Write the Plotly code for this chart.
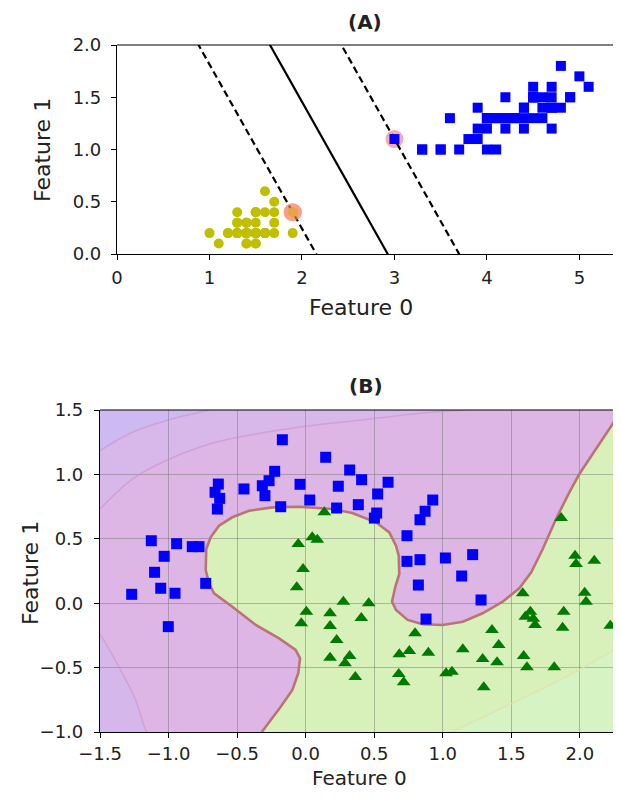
import plotly.graph_objects as go

# ---------------- Panel A data (iris petal length / width) ----------------
setosa_len = [1.4,1.4,1.3,1.5,1.4,1.7,1.4,1.5,1.4,1.5,1.5,1.6,1.4,1.1,1.2,1.5,1.3,1.4,1.7,1.5,
              1.7,1.5,1.0,1.7,1.9,1.6,1.6,1.5,1.4,1.6,1.6,1.5,1.5,1.4,1.5,1.2,1.3,1.4,1.3,1.5,
              1.3,1.3,1.3,1.6,1.9,1.4,1.6,1.4,1.5,1.4]
setosa_wid = [0.2,0.2,0.2,0.2,0.2,0.4,0.3,0.2,0.2,0.1,0.2,0.2,0.1,0.1,0.2,0.4,0.4,0.3,0.3,0.3,
              0.2,0.4,0.2,0.5,0.2,0.2,0.4,0.2,0.2,0.2,0.2,0.4,0.1,0.2,0.2,0.2,0.2,0.1,0.2,0.2,
              0.3,0.3,0.2,0.6,0.4,0.3,0.2,0.2,0.2,0.2]
versi_len = [4.7,4.5,4.9,4.0,4.6,4.5,4.7,3.3,4.6,3.9,3.5,4.2,4.0,4.7,3.6,4.4,4.5,4.1,4.5,3.9,
             4.8,4.0,4.9,4.7,4.3,4.4,4.8,5.0,4.5,3.5,3.8,3.7,3.9,5.1,4.5,4.5,4.7,4.4,4.1,4.0,
             4.4,4.6,4.0,3.3,4.2,4.2,4.2,4.3,3.0,4.1]
versi_wid = [1.4,1.5,1.5,1.3,1.5,1.3,1.6,1.0,1.3,1.4,1.0,1.5,1.0,1.4,1.3,1.4,1.5,1.0,1.5,1.1,
             1.8,1.3,1.5,1.2,1.3,1.4,1.4,1.7,1.5,1.0,1.1,1.0,1.2,1.6,1.5,1.6,1.5,1.3,1.3,1.3,
             1.2,1.4,1.2,1.0,1.3,1.2,1.3,1.3,1.1,1.3]
sv_x = [1.9, 3.0]
sv_y = [0.4, 1.1]
svm_w = [1.2941, 0.8235]
svm_b = -3.7882
a_xticks = [0, 1, 2, 3, 4, 5]
a_yticks = [0.0, 0.5, 1.0, 1.5, 2.0]
a_xrange = [0, 5.45]
a_yrange = [0, 2]

# ---------------- Panel B data (moons) ----------------
blue_x = [-0.170, 0.146, 0.321, 0.408, -0.226, -0.267, -0.316, -0.297, -0.450, -0.637, -0.661,
          -0.627, -0.644, -0.041, 0.030, -0.182, 0.238, 0.226, 0.384, -1.126, -0.941, -0.827,
          -0.778, -1.032, -1.102, 0.601, 0.525, 0.518, 0.501, 0.927, 0.871, 0.834, 0.739,
          0.739, 0.834, 1.019, 1.218, -1.057, -0.953, -1.269, -0.729, -1.002, 1.138, 0.822,
          1.279, 0.878]
blue_y = [1.269, 1.133, 1.034, 0.959, 1.024, 0.951, 0.912, 0.835, 0.887, 0.925, 0.861,
          0.814, 0.731, 0.923, 0.801, 0.749, 0.908, 0.739, 0.765, 0.485, 0.462, 0.439,
          0.439, 0.364, 0.240, 0.939, 0.848, 0.700, 0.661, 0.801, 0.714, 0.648, 0.524,
          0.325, 0.338, 0.351, 0.377, 0.116, 0.077, 0.069, 0.154, -0.182, 0.211, 0.141,
          0.025, -0.123]
green_x = [0.136, -0.054, 0.048, 0.085, -0.019, 1.863, 1.965, 1.972, 2.105, -0.065, 0.275,
           0.005, 0.178, 0.406, -0.032, 0.178, 0.226, 0.178, 0.321, 0.287, 0.362, 0.460,
           1.583, 1.639, 1.602, 1.673, 1.660, 1.882, 1.874, 2.035, 2.045, 2.222, 1.359,
           0.798, 1.408, 1.146, 0.683, 0.756, 0.895, 1.291, 1.396, 1.590, 1.614, 1.813,
           0.679, 0.715, 1.024, 1.067, 1.299]
green_y = [0.706, 0.460, 0.512, 0.493, 0.266, 0.661, 0.369, 0.304, 0.330, 0.123, 0.012,
           -0.066, -0.078, -0.115, -0.156, -0.177, -0.286, -0.423, -0.410, -0.467, -0.573, -0.001,
           0.077, -0.066, -0.105, -0.169, -0.120, -0.066, -0.190, 0.082, 0.012, -0.175, -0.208,
           -0.234, -0.325, -0.358, -0.397, -0.371, -0.384, -0.433, -0.459, -0.410, -0.498, -0.498,
           -0.550, -0.614, -0.544, -0.532, -0.653]
# decision boundary
bnd_x = [-0.32, -0.291, -0.182, -0.097, -0.054, -0.041, -0.073, -0.194, -0.364, -0.535, -0.668,
         -0.705, -0.729, -0.725, -0.693, -0.632, -0.535, -0.413, -0.243, -0.049, 0.194, 0.340,
         0.513, 0.610, 0.659, 0.679, 0.683, 0.654, 0.630, 0.659, 0.744, 0.854, 0.999, 1.146,
         1.291, 1.437, 1.558, 1.645, 1.729, 1.826, 1.923, 1.996, 2.118, 2.215, 2.30]
bnd_y = [-1.0, -0.959, -0.804, -0.674, -0.544, -0.428, -0.363, -0.273, -0.169, -0.027, 0.077,
         0.154, 0.258, 0.421, 0.512, 0.602, 0.667, 0.718, 0.744, 0.749, 0.731, 0.700,
         0.628, 0.550, 0.446, 0.369, 0.227, 0.128, 0.012, -0.053, -0.130, -0.164, -0.169, -0.144,
         -0.078, 0.012, 0.116, 0.240, 0.421, 0.654, 0.861, 1.003, 1.197, 1.352, 1.49]
# faint decision-function contours
arc1_x = [-1.5, -1.264, -1.021, -0.705]
arc1_y = [1.184, 1.327, 1.417, 1.5]
arc2_x = [-1.5, -1.264, -1.021, -0.656, -0.291, 0.073, 0.426, 0.854, 1.17]
arc2_y = [0.731, 0.964, 1.106, 1.249, 1.327, 1.384, 1.425, 1.477, 1.5]
arc3_x = [-1.5, -1.458, -1.337, -1.240, -1.167, -1.155]
arc3_y = [-0.24, -0.311, -0.544, -0.752, -0.984, -1.0]
arc4_x = [2.40, 1.948, 1.583, 1.097, 1.07]
arc4_y = [-0.27, -0.544, -0.738, -0.984, -1.0]
b_xticks = [-1.5, -1.0, -0.5, 0.0, 0.5, 1.0, 1.5, 2.0]
b_yticks = [-1.0, -0.5, 0.0, 0.5, 1.0, 1.5]
b_xrange = [-1.5, 2.30]
b_yrange = [-1.0, 1.5]

FONT = "DejaVu Sans"
# the page body adds an 8px margin at the top-left
OFF, W, H = 8, 613, 782
def sx(px):
    return (px - OFF) / W
def sy(py):
    return 1 - (py - OFF) / H

fig = go.Figure()

# ---------------- Panel A ----------------
ax0, ax1 = a_xrange
def margin_line(off):
    xs = [ax0 - 1, ax1 + 1]
    ys = [-(svm_w[0] * x + svm_b + off) / svm_w[1] for x in xs]
    return xs, ys

fig.add_trace(go.Scatter(x=sv_x, y=sv_y, mode="markers", xaxis="x", yaxis="y",
                         marker=dict(size=18, color="#FFAAAA"), showlegend=False))
for off in [0, 1, -1]:
    xs, ys = margin_line(off)
    fig.add_trace(go.Scatter(x=xs, y=ys, mode="lines", xaxis="x", yaxis="y",
                             line=dict(color="black", width=2.2, dash="solid" if off == 0 else "7px,4px"),
                             showlegend=False))
fig.add_trace(go.Scatter(x=setosa_len, y=setosa_wid, mode="markers", xaxis="x", yaxis="y",
                         marker=dict(symbol="circle", size=10, color="#BFBF00"), showlegend=False))
fig.add_trace(go.Scatter(x=versi_len, y=versi_wid, mode="markers", xaxis="x", yaxis="y",
                         marker=dict(symbol="square", size=10, color="#0000FF"), showlegend=False))
fig.add_trace(go.Scatter(x=sv_x[:1], y=sv_y[:1], mode="markers", xaxis="x", yaxis="y",
                         marker=dict(size=18, color="rgba(250,150,110,0.6)"), showlegend=False))

# ---------------- Panel B background (below gridlines) ----------------
def path_of(xs, ys):
    return "M " + " L ".join(f"{x},{y}" for x, y in zip(xs, ys)) + " Z"

bx0, bx1 = b_xrange
by0, by1 = b_yrange
XR = 2.6  # polygons run past the (cropped) right edge
shapes = []
shapes.append(dict(type="rect", xref="x2", yref="y2", x0=bx0, x1=bx1, y0=by0, y1=by1,
                   fillcolor="#DDB6E6", line=dict(width=0), layer="below"))
shapes.append(dict(type="path", xref="x2", yref="y2",
                   path=path_of(arc2_x + [bx0], arc2_y + [by1]),
                   fillcolor="#D8B7EA", line=dict(width=0), layer="below"))
shapes.append(dict(type="path", xref="x2", yref="y2",
                   path=path_of(arc1_x + [bx0], arc1_y + [by1]),
                   fillcolor="#CDBAF2", line=dict(width=0), layer="below"))
shapes.append(dict(type="path", xref="x2", yref="y2",
                   path=path_of(arc3_x + [bx0], arc3_y + [by0]),
                   fillcolor="#D5B7EC", line=dict(width=0), layer="below"))
shapes.append(dict(type="path", xref="x2", yref="y2",
                   path=path_of(bnd_x + [XR, XR], bnd_y + [by1, by0]),
                   fillcolor="#D8F0B9", line=dict(width=0), layer="below"))
shapes.append(dict(type="path", xref="x2", yref="y2",
                   path=path_of(arc4_x + [XR], arc4_y + [by0]),
                   fillcolor="#D5F3C3", line=dict(width=0), layer="below"))
shapes.append(dict(type="line", xref="x domain", yref="y domain", x0=0, x1=1, y0=1, y1=1,
                   line=dict(color="black", width=1.2)))
shapes.append(dict(type="line", xref="x2 domain", yref="y2 domain", x0=0, x1=1, y0=1, y1=1,
                   line=dict(color="black", width=1.2)))

for ax_, ay_ in [(arc1_x, arc1_y), (arc2_x, arc2_y), (arc3_x, arc3_y)]:
    fig.add_trace(go.Scatter(x=ax_, y=ay_, mode="lines", xaxis="x2", yaxis="y2",
                             line=dict(color="rgba(200,140,200,0.5)", width=1.5, shape="spline"),
                             showlegend=False, hoverinfo="skip"))
fig.add_trace(go.Scatter(x=arc4_x, y=arc4_y, mode="lines", xaxis="x2", yaxis="y2",
                         line=dict(color="rgba(225,225,175,0.8)", width=1.5, shape="spline"),
                         showlegend=False, hoverinfo="skip"))
fig.add_trace(go.Scatter(x=bnd_x, y=bnd_y, mode="lines", xaxis="x2", yaxis="y2",
                         line=dict(color="#B97575", width=2.6), showlegend=False))
fig.add_trace(go.Scatter(x=blue_x, y=blue_y, mode="markers", xaxis="x2", yaxis="y2",
                         marker=dict(symbol="square", size=11, color="#0000FF"), showlegend=False))
fig.add_trace(go.Scatter(x=green_x, y=green_y, mode="markers", xaxis="x2", yaxis="y2",
                         marker=dict(symbol="triangle-up", size=12, color="#007A00"), showlegend=False))

tickfont = dict(family=FONT, size=18, color="#222222")
common = dict(showline=True, linecolor="black", linewidth=1.2, ticks="outside", ticklen=5,
              tickcolor="black", tickwidth=1.2, tickfont=tickfont, zeroline=False, mirror=False,
              automargin=False)

def label(text, px, py, size, angle=0):
    return dict(text=text, x=sx(px), y=sy(py), xref="paper", yref="paper", showarrow=False,
                xanchor="center", yanchor="middle", textangle=angle,
                font=dict(family=FONT, size=size, color="#222222"))

fig.update_layout(
    width=W, height=H, margin=dict(l=0, r=0, t=0, b=0, pad=0, autoexpand=False),
    paper_bgcolor="white", plot_bgcolor="rgba(0,0,0,0)", showlegend=False,
    xaxis=dict(domain=[sx(117), 1], range=a_xrange, tickvals=a_xticks, ticktext=[str(t) for t in a_xticks],
               showgrid=False, anchor="y", ticklabelstandoff=2, **common),
    yaxis=dict(domain=[sy(254), sy(45)], range=a_yrange, tickvals=a_yticks, tickformat=".1f",
               showgrid=False, anchor="x", ticklabelstandoff=6, **common),
    xaxis2=dict(domain=[sx(100), 1], range=b_xrange, tickvals=b_xticks, tickformat=".1f",
                showgrid=True, gridcolor="rgba(110,110,110,0.45)", gridwidth=1, anchor="y2",
                ticklabelstandoff=0, **common),
    yaxis2=dict(domain=[sy(732), sy(410)], range=b_yrange, tickvals=b_yticks, tickformat=".1f",
                showgrid=True, gridcolor="rgba(110,110,110,0.45)", gridwidth=1, anchor="x2",
                ticklabelstandoff=7, **common),
    shapes=shapes,
    annotations=[
        label("<b>(A)</b>", 365, 22, 20),
        label("Feature 0", 361, 307, 22),
        label("Feature 1", 42, 150, 22, -90),
        label("<b>(B)</b>", 366, 386, 20),
        label("Feature 0", 360, 778, 20),
        label("Feature 1", 30, 573, 22, -90),
    ],
)

fig.write_html("out.html")
